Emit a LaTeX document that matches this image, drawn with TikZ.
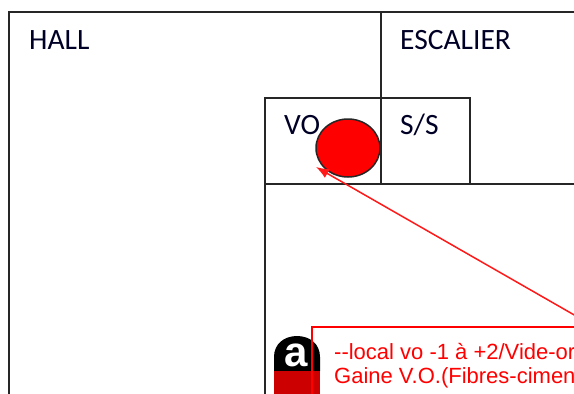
\documentclass[tikz,border=0pt]{standalone}
\usepackage{fontspec}
\usetikzlibrary{shapes.geometric,arrows.meta}
\setmainfont{Carlito}
\newfontfamily\redfont{Liberation Sans}
\tikzset{
  wall/.style={draw=black!85,line width=1.5pt},
  room/.style={font=\fontsize{29.5}{30}\selectfont,text=black!85!blue,inner sep=0pt,anchor=base west},
  notebox/.style={draw=red,line width=1.3pt},
  notetext/.style={font=\redfont\fontsize{22}{25}\selectfont,text=red,inner sep=0pt,anchor=base west},
}
\begin{document}
\begin{tikzpicture}[x=1pt,y=-1pt]
\useasboundingbox (0,0) rectangle (574,394);
\begin{scope}
\clip (0,0) rectangle (574,394);
\draw[wall] (9,394) -- (9,12) -- (574,12);
\draw[wall] (381,12) -- (381,184);
\draw[wall] (265,394) -- (265,98) -- (470,98) -- (470,184);
\draw[wall] (265,184) -- (574,184);
\node[room] (hall) at (29,49) {HALL};
\node[room] (esc) at (400,49) {ESCALIER};
\node[room] (vo) at (284,134) {VO};
\node[room] (ss) at (400,134) {S/S};
% logo
\fill[black] (274,371) -- (274,357) .. controls (274,344) and (284,336) .. (297,336) .. controls (310,336) and (320,344) .. (320,357) -- (320,371) -- cycle;
\fill[red!80!black] (274,371) rectangle (320,394);
\node[font=\redfont\bfseries\fontsize{42}{42}\selectfont,text=white,inner sep=0pt] (logoa) at (296,355) {a};
\node[draw=black!85,line width=1.5pt,fill=red,ellipse,minimum width=64pt,minimum height=58pt,inner sep=0pt] (dot) at (348,148) {};
\coordinate (arrowstart) at (590,324);
\coordinate (arrowend) at (316,167);
\draw[red!90!white,line width=1.5pt,-{Latex[length=13pt,width=10pt]}] (arrowstart) -- (arrowend);
\draw[notebox] (312,327) rectangle (600,420);
\node[notetext] (l1) at (334,359) {--local vo -1 à +2/Vide-or};
\node[notetext] (l2) at (334,383) {Gaine V.O.(Fibres-cimen};
\end{scope}
\end{tikzpicture}
\end{document}
